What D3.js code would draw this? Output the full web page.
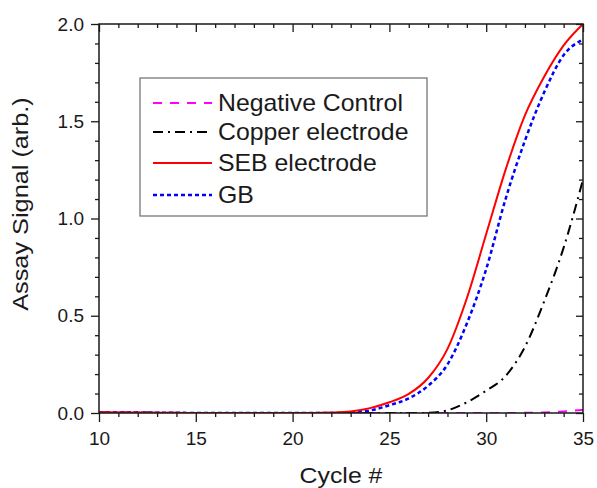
<!DOCTYPE html>
<html>
<head>
<meta charset="utf-8">
<script src="https://cdn.jsdelivr.net/npm/d3@7"></script>
<style>
  html, body { margin: 0; padding: 0; background: #fff; }
  text { font-family: "Liberation Sans", Arial, sans-serif; fill: #1a1a1a; }
</style>
</head>
<body>
<svg id="chart" width="597" height="488"></svg>
<script>
const cycles = [10,11,12,13,14,15,16,17,18,19,20,21,22,23,24,25,26,27,28,29,30,31,32,33,34,35];
const negativeControl = [0.003,0.002,0.002,0.001,0.001,0,0,0,0,0,0,0,0,0,0,0,0,0,0,0,0,0,0.001,0.003,0.008,0.016];
const copperElectrode = [0.002,0.002,0.004,0.001,0,0,0,0,0,0,0,0,0,0,0,0,0,0.001,0.014,0.055,0.115,0.19,0.34,0.575,0.85,1.2];
const sebElectrode = [0.004,0.003,0.002,0.001,0.001,0,0,0,0,0,0,0,0.002,0.008,0.025,0.055,0.098,0.18,0.33,0.59,0.92,1.25,1.53,1.73,1.89,2.0];
const gbElectrode = [0.004,0.003,0.002,0.001,0.001,0,0,0,0,0,0,0,0,0.003,0.013,0.04,0.075,0.14,0.25,0.46,0.74,1.1,1.4,1.65,1.84,1.92];

const xMajorTicks = [10,15,20,25,30,35];
const yMajorTicks = [0,0.5,1.0,1.5,2.0];
const legendLabels = ["Negative Control","Copper electrode","SEB electrode","GB"];

const series = [
  {name: legendLabels[0], values: negativeControl, color: "#ff00ff", dash: "9,8", width: 2},
  {name: legendLabels[1], values: copperElectrode, color: "#000000", dash: "10,5,2,5", width: 2},
  {name: legendLabels[2], values: sebElectrode, color: "#ff0000", dash: null, width: 2},
  {name: legendLabels[3], values: gbElectrode, color: "#0000ff", dash: "4,3", width: 2.5}
];

const svg = d3.select("#chart");
const L = 99, R = 583, T = 24, B = 413;
const x = d3.scaleLinear().domain([10,35]).range([L,R]);
const y = d3.scaleLinear().domain([0,2]).range([B,T]);

const xMinor = d3.range(10,35.01,1).filter(v => !xMajorTicks.includes(v));
const yMinor = d3.range(0,20.01,1).map(v => v/10).filter(v => !yMajorTicks.some(m => Math.abs(m-v)<1e-9));

svg.append("defs").append("clipPath").attr("id","clip")
  .append("rect").attr("x",L).attr("y",T-2).attr("width",R-L+1).attr("height",B-T+2);

const line = d3.line()
  .x((d,i) => x(cycles[i]))
  .y(d => y(d))
  .curve(d3.curveMonotoneX);

const drawOrder = [0,1,3,2];
drawOrder.forEach(k => {
  const s = series[k];
  svg.append("path")
    .attr("clip-path","url(#clip)")
    .attr("d", line(s.values))
    .attr("fill","none")
    .attr("stroke", s.color)
    .attr("stroke-width", s.width)
    .attr("stroke-dasharray", s.dash)
    .attr("stroke-linecap","butt");
});

function styleAxis(g){
  g.select(".domain").remove();
  g.selectAll("line").attr("stroke","#1a1a1a").attr("stroke-width",1.3);
  g.selectAll("text").attr("font-size","19px").attr("fill","#1a1a1a");
}

svg.append("g").attr("transform",`translate(0,${B})`)
  .call(d3.axisBottom(x).tickValues(xMajorTicks).tickSize(9).tickPadding(10).tickFormat(d3.format("d")))
  .call(styleAxis);
svg.append("g").attr("transform",`translate(0,${B})`)
  .call(d3.axisBottom(x).tickValues(xMinor).tickSize(4).tickFormat(""))
  .call(styleAxis);
svg.append("g").attr("transform",`translate(0,${T})`)
  .call(d3.axisTop(x).tickValues(xMajorTicks).tickSize(-8).tickFormat(""))
  .call(styleAxis);
svg.append("g").attr("transform",`translate(0,${T})`)
  .call(d3.axisTop(x).tickValues(xMinor).tickSize(-4).tickFormat(""))
  .call(styleAxis);
svg.append("g").attr("transform",`translate(${L},0)`)
  .call(d3.axisLeft(y).tickValues(yMajorTicks).tickSize(8).tickPadding(7).tickFormat(d3.format(".1f")))
  .call(styleAxis);
svg.append("g").attr("transform",`translate(${L},0)`)
  .call(d3.axisLeft(y).tickValues(yMinor).tickSize(4).tickFormat(""))
  .call(styleAxis);
svg.append("g").attr("transform",`translate(${R},0)`)
  .call(d3.axisRight(y).tickValues(yMajorTicks).tickSize(-7).tickFormat(""))
  .call(styleAxis);
svg.append("g").attr("transform",`translate(${R},0)`)
  .call(d3.axisRight(y).tickValues(yMinor).tickSize(-4).tickFormat(""))
  .call(styleAxis);

svg.append("rect").attr("x",L).attr("y",T).attr("width",R-L).attr("height",B-T)
  .attr("fill","none").attr("stroke","#1a1a1a").attr("stroke-width",1.5);

// axis titles
svg.append("text").attr("transform",`translate(${(L+R)/2},483) scale(1.13,1)`)
  .attr("text-anchor","middle").attr("font-size","22px").text("Cycle #");
svg.append("text").attr("transform","translate(28,204) rotate(-90) scale(1.15,1)")
  .attr("text-anchor","middle").attr("font-size","22px").text("Assay Signal (arb.)");

// legend
const lg = svg.append("g");
lg.append("rect").attr("x",140).attr("y",78).attr("width",287).attr("height",138)
  .attr("fill","#fff").attr("stroke","#777").attr("stroke-width",1.3);
const rowY = [103,132,163,195];
series.forEach((s,i) => {
  lg.append("line").attr("x1",153).attr("x2",212).attr("y1",rowY[i]).attr("y2",rowY[i])
    .attr("stroke",s.color).attr("stroke-width",s.width)
    .attr("stroke-dasharray",s.dash);
  lg.append("text").attr("transform",`translate(218,${rowY[i]}) scale(1.08,1)`)
    .attr("dy","0.36em").attr("font-size","23px").text(s.name);
});
</script>
</body>
</html>
